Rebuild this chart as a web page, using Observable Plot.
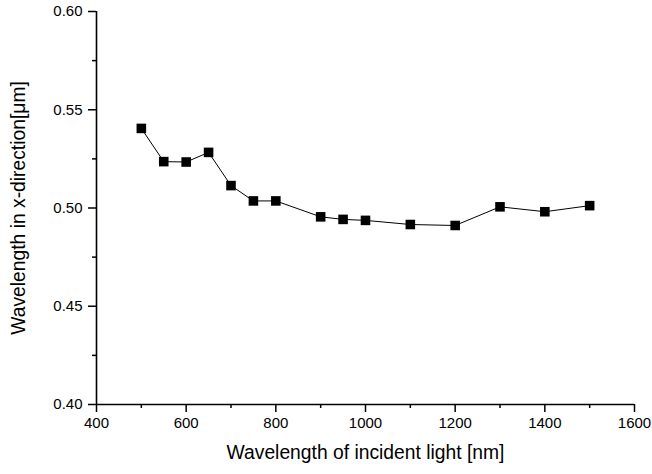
<!DOCTYPE html>
<html>
<head>
<meta charset="utf-8">
<script src="https://cdn.jsdelivr.net/npm/d3@7"></script>
<script src="https://cdn.jsdelivr.net/npm/@observablehq/plot@0.6"></script>
<style>
  html, body { margin: 0; padding: 0; background: #fff; }
  #chart svg { display: block; }
</style>
</head>
<body>
<div id="chart"></div>
<script>
// Incident light wavelength (nm) and the resulting x-direction wavelength (µm)
const incidentNm = [500, 550, 600, 650, 700, 750, 800, 900, 950, 1000, 1100, 1200, 1300, 1400, 1500];
const xWavelengthUm = [0.5405, 0.5236, 0.5234, 0.5283, 0.5114, 0.5036, 0.5036, 0.4955, 0.4942, 0.4937, 0.4916, 0.4911, 0.5006, 0.4981, 0.5012];

// Axis ticks
const xMajorTicks = [400, 600, 800, 1000, 1200, 1400, 1600];
const xMinorTicks = [500, 700, 900, 1100, 1300, 1500];
const yMajorTicks = [0.40, 0.45, 0.50, 0.55, 0.60];
const yMinorTicks = [0.425, 0.475, 0.525, 0.575];

const xTitle = "Wavelength of incident light [nm]";
const yTitle = "Wavelength in x-direction[\u03bcm]";

const data = incidentNm.map((x, i) => ({x, y: xWavelengthUm[i]}));

const chart = Plot.plot({
  width: 652,
  height: 474,
  marginLeft: 96,
  marginRight: 18,
  marginTop: 11,
  marginBottom: 70,
  style: {fontFamily: "'Liberation Sans', Arial, sans-serif", fontSize: "15px", color: "#000", background: "#fff"},
  x: {domain: [400, 1600]},
  y: {domain: [0.40, 0.60]},
  marks: [
    Plot.axisX(xMajorTicks, {tickSize: 8, tickPadding: 5, strokeWidth: 1.5, tickFormat: d => String(d), label: null, fontSize: 15}),
    Plot.axisX(xMinorTicks, {tickSize: 4, strokeWidth: 1.5, text: null, label: null}),
    Plot.axisY(yMajorTicks, {tickSize: 8, tickPadding: 6, strokeWidth: 1.5, tickFormat: d3.format(".2f"), label: null, fontSize: 15}),
    Plot.axisY(yMinorTicks, {tickSize: 4, strokeWidth: 1.5, text: null, label: null}),
    Plot.ruleY([0.40], {stroke: "#000", strokeWidth: 1.6}),
    Plot.ruleX([400], {stroke: "#000", strokeWidth: 1.6}),
    Plot.line(data, {x: "x", y: "y", stroke: "#000", strokeWidth: 1}),
    Plot.dot(data, {x: "x", y: "y", symbol: "square", r: 5.4, fill: "#000", stroke: "none"}),
    Plot.text([xTitle], {frameAnchor: "bottom", dy: 48, textAnchor: "middle", lineAnchor: "middle", fontSize: 19.3, fill: "#000"}),
    Plot.text([yTitle], {frameAnchor: "left", dx: -78, rotate: -90, textAnchor: "middle", lineAnchor: "middle", fontSize: 19.3, fill: "#000"})
  ]
});

document.getElementById("chart").append(chart);
</script>
</body>
</html>
